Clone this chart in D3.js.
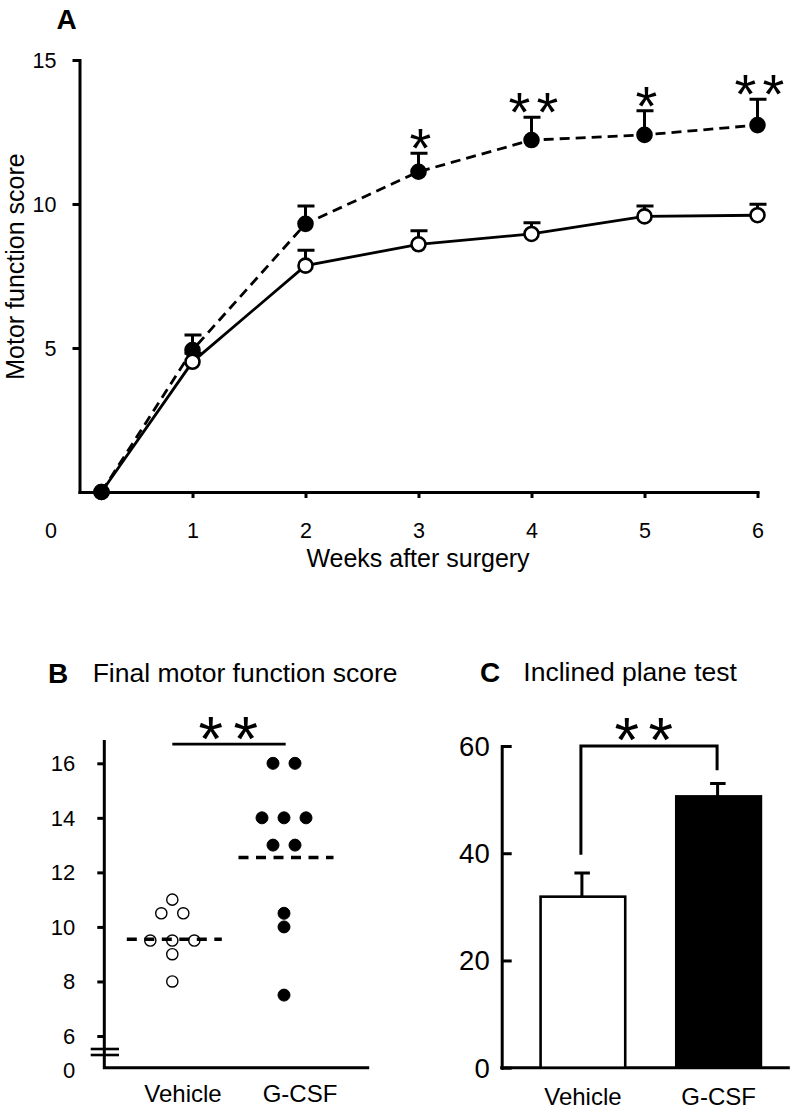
<!DOCTYPE html>
<html><head><meta charset="utf-8">
<script src="https://cdn.jsdelivr.net/npm/d3@7"></script>
<style>
body{margin:0;background:#fff}
svg text{font-family:"Liberation Sans",Arial,Helvetica,sans-serif;fill:#000}
</style>
</head><body>
<svg id="chart" width="794" height="1113"></svg>
<script>
// ---------------- DATA ----------------
// Panel A: motor function score over weeks
const weeks = [0, 1, 2, 3, 4, 5, 6];
const vehicleMean = [0, 4.52, 7.86, 8.6, 8.96, 9.57, 9.61];
const vehicleErr  = [0, 0.3, 0.53, 0.47, 0.39, 0.36, 0.38];
const gcsfMean    = [0, 4.93, 9.31, 11.12, 12.22, 12.4, 12.74];
const gcsfErr     = [0, 0.52, 0.62, 0.64, 0.79, 0.84, 0.9];
const weekStars   = ["", "", "", "*", "**", "*", "**"];
const yTicksA = [5, 10, 15];
const xTicksA = [1, 2, 3, 4, 5, 6];

// Panel B: final motor function score (individual animals)
const groups = ["Vehicle", "G-CSF"];
const vehicleScores = [11, 10.5, 10.5, 9.5, 9.5, 9.5, 9, 8];
const gcsfScores = [16, 16, 14, 14, 14, 13, 13, 10.5, 10, 7.5];
const groupMeans = [9.55, 12.55];
const yTicksB = [6, 8, 10, 12, 14, 16];

// Panel C: inclined plane test
const inclineMean = [31.9, 50.6];
const inclineErr = [4.4, 2.4];
const yTicksC = [0, 20, 40, 60];

// ---------------- DRAWING ----------------
const svg = d3.select("#chart");
const FONT = '"Liberation Sans", Arial, Helvetica, sans-serif';
const AST = 0.389; // asterisk advance (em)
const fmt = d3.format("d");

function styleAxis(g, fs) {
  g.attr("font-family", FONT);
  g.selectAll(".domain").attr("stroke-width", 3).attr("stroke-linecap", "square");
  g.selectAll(".tick line").attr("stroke-width", 3);
  g.selectAll(".tick text").attr("font-size", fs).attr("fill", "#000");
}
function stars(g, txt, cx, cy, fs, gap) {
  const ls = gap - AST * fs;
  g.append("text").attr("x", cx).attr("y", cy + 0.573 * fs)
    .attr("text-anchor", "middle").attr("font-size", fs)
    .attr("letter-spacing", ls).attr("dx", ls / 2).text(txt);
}

// ===== Panel A =====
const xA = d3.scaleLinear().domain([0, 6]).range([79.5, 757.5]);
const yA = d3.scaleLinear().domain([0, 15]).range([492, 60]);
const week0Shift = 22;
const px = w => (w === 0 ? xA(0) + week0Shift : xA(w));
const gA = svg.append("g");

const axYA = gA.append("g").attr("transform", `translate(${xA(0)},0)`)
  .call(d3.axisLeft(yA).tickValues(yTicksA).tickFormat(fmt).tickSize(7).tickSizeOuter(0).tickPadding(16));
styleAxis(axYA, 21.5);
axYA.selectAll(".tick text").attr("dy", null).attr("dominant-baseline", "central");
const axXA = gA.append("g").attr("transform", `translate(0,${yA(0)})`)
  .call(d3.axisBottom(xA).tickValues(xTicksA).tickFormat(fmt).tickSize(6).tickSizeOuter(0));
styleAxis(axXA, 21.5);
axXA.selectAll(".tick text").attr("y", 38.7).attr("dy", null).attr("dominant-baseline", "central");
gA.append("text").attr("x", 51).attr("y", yA(0) + 38.7).attr("text-anchor", "middle")
  .attr("dominant-baseline", "central").attr("font-size", 21.5).text("0");

gA.append("text").attr("x", 418).attr("y", 557.5).attr("text-anchor", "middle")
  .attr("dominant-baseline", "central").attr("font-size", 25).text("Weeks after surgery");
gA.append("text").attr("transform", "translate(15,266.5) rotate(-90)").attr("text-anchor", "middle")
  .attr("dominant-baseline", "central").attr("font-size", 25).text("Motor function score");
gA.append("text").attr("x", 66.7).attr("y", 19).attr("text-anchor", "middle")
  .attr("dominant-baseline", "central").attr("font-size", 28).attr("font-weight", "bold").text("A");

const vehData = weeks.map((w, i) => ({ w, m: vehicleMean[i], e: vehicleErr[i], filled: false }));
const gData = weeks.map((w, i) => ({ w, m: gcsfMean[i], e: gcsfErr[i], filled: true, s: weekStars[i] }));
const line = d3.line().x(d => px(d.w)).y(d => yA(d.m));

gA.append("path").datum(gData).attr("d", line).attr("fill", "none").attr("stroke", "#000")
  .attr("stroke-width", 2.8).attr("stroke-dasharray", "10,6");
gA.append("path").datum(vehData).attr("d", line).attr("fill", "none").attr("stroke", "#000")
  .attr("stroke-width", 2.8);

function errMarks(g, data) {
  const d2 = data.filter(d => d.e > 0);
  g.selectAll(null).data(d2).join("path")
    .attr("d", d => `M${px(d.w)},${yA(d.m)}V${yA(d.m + d.e)}M${px(d.w) - 8},${yA(d.m + d.e)}H${px(d.w) + 9}`)
    .attr("stroke", "#000").attr("stroke-width", 3).attr("fill", "none");
}
function markers(g, data) {
  g.selectAll(null).data(data).join("circle")
    .attr("cx", d => px(d.w)).attr("cy", d => yA(d.m)).attr("r", 7)
    .attr("fill", d => (d.filled ? "#000" : "#fff")).attr("stroke", "#000").attr("stroke-width", 2.6);
}
errMarks(gA, gData);
markers(gA, gData.filter(d => d.w > 0));
errMarks(gA, vehData);
markers(gA, vehData);
markers(gA, gData.filter(d => d.w === 0));
gData.filter(d => d.s).forEach(d => stars(gA, d.s, px(d.w) + 2, yA(d.m + d.e) - 18, 56, 28));

// ===== Panel B =====
const yB = d3.scaleLinear().domain([6, 16]).range([1036, 763.3]);
const xB = d3.scalePoint().domain(groups).range([172.3, 284]);
const xBLab = d3.scalePoint().domain(groups).range([183, 300]);
const axisXB = 104.3, baseB = yB(6) + 31.7, endXB = 367.7;
const gB = svg.append("g");

const axYB = gB.append("g").attr("transform", `translate(${axisXB},0)`)
  .call(d3.axisLeft(yB).tickValues(yTicksB).tickFormat(fmt).tickSize(7).tickPadding(22));
axYB.select(".domain").remove();
styleAxis(axYB, 22);
axYB.selectAll(".tick text").attr("dy", null).attr("dominant-baseline", "central");
gB.append("path").attr("d", `M${axisXB},${yB(16.8)}V${baseB}H${endXB}`)
  .attr("fill", "none").attr("stroke", "#000").attr("stroke-width", 3).attr("stroke-linecap", "square");
gB.append("text").attr("x", axisXB - 29).attr("y", baseB + 2.3).attr("text-anchor", "end")
  .attr("dominant-baseline", "central").attr("font-size", 22).text("0");
[-18.7, -12.7].forEach(o => gB.append("line").attr("x1", axisXB - 13.6).attr("x2", axisXB + 14.7)
  .attr("y1", baseB + o).attr("y2", baseB + o).attr("stroke", "#000").attr("stroke-width", 2.6));

function spread(values) {
  const counts = d3.rollup(values, v => v.length, v => v);
  const seen = new Map();
  return values.map(v => {
    const n = counts.get(v), i = seen.get(v) || 0;
    seen.set(v, i + 1);
    return { v, off: (i - (n - 1) / 2) * 22 };
  });
}
[vehicleScores, gcsfScores].forEach((vals, gi) => {
  const cx = xB(groups[gi]);
  gB.selectAll(null).data(spread(vals)).join("circle")
    .attr("cx", d => cx + d.off).attr("cy", d => yB(d.v)).attr("r", gi === 0 ? 5.6 : 6)
    .attr("fill", gi === 0 ? "#fff" : "#000").attr("stroke", "#000").attr("stroke-width", gi === 0 ? 1.4 : 1);
});
gB.selectAll(null).data(groups).join("line")
  .attr("x1", (g, i) => xB(g) + 2 - 47.5).attr("x2", (g, i) => xB(g) + 2 + 47.5)
  .attr("y1", (g, i) => yB(groupMeans[i])).attr("y2", (g, i) => yB(groupMeans[i]))
  .attr("stroke", "#000").attr("stroke-width", 3.5).attr("stroke-dasharray", "10,7.5");
gB.append("line").attr("x1", xB("Vehicle")).attr("x2", xB("G-CSF") + 1.7)
  .attr("y1", yB(16.8) + 2.6).attr("y2", yB(16.8) + 2.6).attr("stroke", "#000").attr("stroke-width", 2.6);
stars(gB, "**", (xB("Vehicle") + xB("G-CSF")) / 2, 724, 63, 35);
gB.selectAll(null).data(groups).join("text")
  .attr("x", g => xBLab(g)).attr("y", 1093).attr("text-anchor", "middle")
  .attr("dominant-baseline", "central").attr("font-size", 24).text(g => g);
gB.append("text").attr("x", 58).attr("y", 673).attr("text-anchor", "middle")
  .attr("dominant-baseline", "central").attr("font-size", 28).attr("font-weight", "bold").text("B");
gB.append("text").attr("x", 92.7).attr("y", 673)
  .attr("dominant-baseline", "central").attr("font-size", 26.5).text("Final motor function score");

// ===== Panel C =====
const yC = d3.scaleLinear().domain([0, 60]).range([1067.7, 746]);
const xC = d3.scaleBand().domain(groups).range([501.7, 799.8]).paddingInner(0.357).paddingOuter(0.277);
const gC = svg.append("g");
const axYC = gC.append("g").attr("transform", `translate(${xC.range()[0]},0)`)
  .call(d3.axisLeft(yC).tickValues(yTicksC).tickFormat(fmt).tickSizeInner(-10).tickSizeOuter(0).tickPadding(12));
styleAxis(axYC, 27.5);
axYC.selectAll(".tick text").attr("dy", null).attr("dominant-baseline", "central");
gC.append("line").attr("x1", xC.range()[0]).attr("x2", 788.3).attr("y1", yC(0)).attr("y2", yC(0))
  .attr("stroke", "#000").attr("stroke-width", 3).attr("stroke-linecap", "square");

gC.selectAll(null).data(groups).join("rect")
  .attr("x", g => xC(g) + 1.3).attr("width", xC.bandwidth() - 2.6)
  .attr("y", (g, i) => yC(inclineMean[i])).attr("height", (g, i) => yC(0) - yC(inclineMean[i]))
  .attr("fill", (g, i) => (i === 0 ? "#fff" : "#000")).attr("stroke", "#000").attr("stroke-width", 2.6);
const cC = g => xC(g) + xC.bandwidth() / 2;
gC.selectAll(null).data(groups).join("path")
  .attr("d", (g, i) => {
    const top = yC(inclineMean[i] + inclineErr[i]);
    return `M${cC(g) - 1},${yC(inclineMean[i])}V${top}M${cC(g) - 8.5},${top}H${cC(g) + 7}`;
  })
  .attr("stroke", "#000").attr("stroke-width", 3).attr("fill", "none");
const gap = 3;
gC.append("path")
  .attr("d", `M${cC("Vehicle") - 2},${yC(inclineMean[0] + inclineErr[0] + gap + 0.4)}V${yC(60)}H${cC("G-CSF") - 1.5}V${yC(inclineMean[1] + inclineErr[1] + gap - 0.5)}`)
  .attr("fill", "none").attr("stroke", "#000").attr("stroke-width", 3);
stars(gC, "**", (cC("Vehicle") + cC("G-CSF")) / 2 - 7, 725, 63, 34);
gC.selectAll(null).data(groups).join("text")
  .attr("x", g => cC(g)).attr("y", 1096.7).attr("text-anchor", "middle")
  .attr("dominant-baseline", "central").attr("font-size", 24).text(g => g);
gC.append("text").attr("x", 490).attr("y", 672).attr("text-anchor", "middle")
  .attr("dominant-baseline", "central").attr("font-size", 28).attr("font-weight", "bold").text("C");
gC.append("text").attr("x", 523.3).attr("y", 672)
  .attr("dominant-baseline", "central").attr("font-size", 26.5).text("Inclined plane test");
</script>
</body></html>
